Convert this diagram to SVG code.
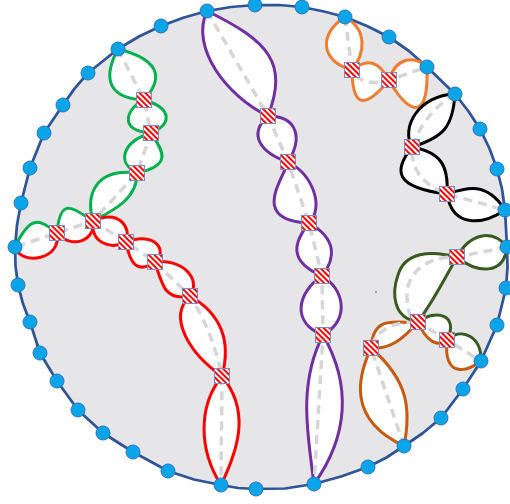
<svg xmlns="http://www.w3.org/2000/svg" width="510" height="504" viewBox="0 0 510 504">
<defs>
<pattern id="hatch" patternUnits="userSpaceOnUse" width="4" height="4" patternTransform="rotate(-45)"><rect width="4" height="4" fill="#fff"/><rect width="2" height="4" fill="#f00"/></pattern>
<style>
.lens{fill:#fff;stroke-width:3;stroke-linejoin:round}
.fill{fill:#fff;stroke:none}
.side{fill:none;stroke-width:3;stroke-linecap:round}
.dash{fill:none;stroke:#d6d6d6;stroke-width:3.5;stroke-dasharray:9 6}
.sq{fill:url(#hatch);stroke:#7b8dc3;stroke-width:1}
.dot{fill:#0aa5e8;stroke:#2e75b6;stroke-width:1}
.green{stroke:#00b050}.red{stroke:#ff0000}.purple{stroke:#7030a0}.orange{stroke:#ed7d31}.black{stroke:#000}.dkgreen{stroke:#3a5a22}.orange2{stroke:#c55a11}
</style>
</defs>
<g id="boundary">
<polygon points="255,5 279,5 302,7 324,11.5 345,17 367,26 389,37 409,51 427,67 455,94 468.3,111 480,129 489.5,148.5 497,169 502,189 505,210 507,247 507.5,267.5 506,288 497,325 481,361 463,389 441,418 423,433 404,446 386.5,457.5 368,467 341,476.5 314,484 285,488.5 256,489 238,488 221,485 194,479.5 168,471 133,452 103,433 78,410 57,381 40,353 30,322 23,303.8 18,285 15.5,266 15,247 17,225 21,203 30,168 44,133 63,105 74.7,88.4 88,73 118,49 139,36.5 161,26 184,17.5 207,11 231,7" fill="#e6e5e7" stroke="#2f5597" stroke-width="2.75" stroke-linejoin="round"/>
<circle cx="376" cy="292" r="1" fill="#8497b0"/>
</g>
<g id="connectors">
<g id="lenses-green">
<path class="lens green" d="M118,49 C105.7,72 102.3,98 144,100 C159.3,83 167.2,61.5 118,49Z"/>
<path class="lens green" d="M144,100 C171.8,108 172.7,123.5 151,133 C115.7,131 128.3,106.5 144,100Z"/>
<path class="lens green" d="M151,133 C122.3,141.8 116.2,162.7 137,173 C176.2,164.2 159.8,147.8 151,133Z"/>
<path class="lens green" d="M137,173 C96.8,168 85.2,193 93,221 C112.2,211 137.3,199.5 137,173Z"/>
</g>
<g id="lenses-green-red">
<path class="fill" d="M93,221 C72,207.3 60,196.7 57,233 C70.5,249.2 96,241.8 93,221Z"/>
<path class="fill" d="M57,233 C41.5,221.8 32,211.2 15,247 C21.5,266.7 62.5,259.3 57,233Z"/>
<path class="side green" d="M93,221 C72,207.3 60,196.7 57,233"/>
<path class="side green" d="M57,233 C41.5,221.8 32,211.2 15,247"/>
<path class="side red" d="M93,221 C96,241.8 70.5,249.2 57,233"/>
<path class="side red" d="M57,233 C62.5,259.3 21.5,266.7 15,247"/>
</g>
<g id="lenses-red">
<path class="lens red" d="M93,221 C120.5,208.5 131.5,229 126,242 C110.5,250 90.5,243 93,221Z"/>
<path class="lens red" d="M126,242 C156.7,230.7 167.8,252.3 155,262 C136.3,274.8 129.7,262.2 126,242Z"/>
<path class="lens red" d="M155,262 C180.2,258.3 202.3,277.2 190,296 C166.3,301.2 162.2,286.8 155,262Z"/>
<path class="lens red" d="M190,296 C166.2,318.2 191.8,355.3 222,376 C230.8,343.3 223.2,315.2 190,296Z"/>
<path class="lens red" d="M222,376 C197.7,406.3 198.8,450.2 221,485 C240.8,444.2 248.7,409.3 222,376Z"/>
</g>
<g id="lenses-purple">
<path class="lens purple" d="M207,11 C189.8,47.5 226.7,96 268,116 C288.2,63 269.3,41.5 207,11Z"/>
<path class="lens purple" d="M268,116 C247.7,134.3 260.3,152.7 288,162 C302.3,139.2 298.7,116.3 268,116Z"/>
<path class="lens purple" d="M288,162 C283,179.3 249.5,220.7 309,223 C324.5,207.2 313,174.8 288,162Z"/>
<path class="lens purple" d="M309,223 C293.8,242.2 287.7,261.3 322,276 C335.7,258.3 337.3,239.2 309,223Z"/>
<path class="lens purple" d="M322,276 C296.8,292.7 291.2,322.8 323,335 C351.2,318.3 343.3,288.2 322,276Z"/>
<path class="lens purple" d="M323,335 C297.5,384.7 308,435.8 314,484 C348.5,435.8 351.5,384.7 323,335Z"/>
</g>
<g id="lenses-orange">
<path class="lens orange" d="M345,17 C318.8,33.2 319.7,61.3 352,70 C364.7,53.8 368.3,30.2 345,17Z"/>
<path class="lens orange" d="M352,70 C367.3,58.3 378.2,60.2 389,80 C358.7,117.2 352.3,97.3 352,70Z"/>
<path class="lens orange" d="M389,80 C395.7,57.7 414.3,54.8 427,67 C429.3,138.8 397.2,96.7 389,80Z"/>
</g>
<g id="lenses-black">
<path class="lens black" d="M455,94 C418.2,95.2 400.8,127.8 412,147 C444.3,136.8 452.7,126.7 455,94Z"/>
<path class="lens black" d="M412,147 C393.7,170.2 393.3,187.3 447,194 C448.8,164.8 440.2,152.2 412,147Z"/>
<path class="lens black" d="M447,194 C463.3,188.8 485.7,179.2 505,210 C484.2,224.2 452.8,229.3 447,194Z"/>
</g>
<g id="lenses-dkgreen">
<path class="lens dkgreen" d="M507,247 C491.8,227.8 469.2,234.2 457,257 C476.7,273.2 503.8,275.8 507,247Z"/>
<path class="lens dkgreen" d="M457,257 C430,250 405,252 398,275 C392,292 392,318 418,322 C435.5,297.3 439.5,287.7 457,257Z"/>
</g>
<g id="lenses-orange2">
<path class="lens orange2" d="M371,348 C373.2,312.3 399.3,324.7 418,322 C402.3,339.7 389.7,349.8 371,348Z"/>
<path class="lens orange2" d="M371,348 C358,376.2 346.5,419.3 404,446 C411,410.3 409,380.7 371,348Z"/>
</g>
<g id="lenses-dkgreen-orange2">
<path class="fill" d="M418,322 C435.2,308.5 459.8,314.5 447,340 C437.3,347.5 426.2,341.5 418,322Z"/>
<path class="fill" d="M447,340 C462.8,326 481.7,337.5 481,361 C466.7,372 443.3,378.5 447,340Z"/>
<path class="side dkgreen" d="M418,322 C435.2,308.5 459.8,314.5 447,340"/>
<path class="side dkgreen" d="M447,340 C462.8,326 481.7,337.5 481,361"/>
<path class="side orange2" d="M418,322 C426.2,341.5 437.3,347.5 447,340"/>
<path class="side orange2" d="M447,340 C443.3,378.5 466.7,372 481,361"/>
</g>
<g id="dashes">
<path class="dash" d="M118,49 L144,100 L151,133 L137,173 L93,221 L57,233 L15,247"/>
<path class="dash" d="M93,221 L126,242 L155,262 L190,296 Q212,330 222,376 L221,485"/>
<path class="dash" d="M207,11 L268,116 L288,162 L309,223 L322,276 L323,335 L314,484"/>
<path class="dash" d="M345,17 L352,70 Q362,88 389,80 L427,67"/>
<path class="dash" d="M455,94 Q425,112 412,147 Q410,180 447,194 L505,210"/>
<path class="dash" d="M507,247 L457,257 C425,256 405,275 407,298 S412,316 418,322 L447,340 L481,361"/>
<path class="dash" d="M404,446 L371,348 Q378,322 418,322"/>
</g>
</g>
<g id="nodes">
<g id="d1"><circle class="dot" cx="255" cy="5" r="7"/></g>
<g id="d2"><circle class="dot" cx="302" cy="7" r="7"/></g>
<g id="d3"><circle class="dot" cx="345" cy="17" r="7"/></g>
<g id="d4"><circle class="dot" cx="389" cy="37" r="7"/></g>
<g id="d5"><circle class="dot" cx="427" cy="67" r="7"/></g>
<g id="d6"><circle class="dot" cx="455" cy="94" r="7"/></g>
<g id="d7"><circle class="dot" cx="480" cy="129" r="7"/></g>
<g id="d8"><circle class="dot" cx="497" cy="169" r="7"/></g>
<g id="d9"><circle class="dot" cx="505" cy="210" r="7"/></g>
<g id="d10"><circle class="dot" cx="507" cy="247" r="7"/></g>
<g id="d11"><circle class="dot" cx="506" cy="288" r="7"/></g>
<g id="d12"><circle class="dot" cx="497" cy="325" r="7"/></g>
<g id="d13"><circle class="dot" cx="481" cy="361" r="7"/></g>
<g id="d14"><circle class="dot" cx="463" cy="389" r="7"/></g>
<g id="d15"><circle class="dot" cx="441" cy="418" r="7"/></g>
<g id="d16"><circle class="dot" cx="404" cy="446" r="7"/></g>
<g id="d17"><circle class="dot" cx="368" cy="467" r="7"/></g>
<g id="d18"><circle class="dot" cx="314" cy="484" r="7"/></g>
<g id="d19"><circle class="dot" cx="256" cy="489" r="7"/></g>
<g id="d20"><circle class="dot" cx="221" cy="485" r="7"/></g>
<g id="d21"><circle class="dot" cx="168" cy="471" r="7"/></g>
<g id="d22"><circle class="dot" cx="133" cy="452" r="7"/></g>
<g id="d23"><circle class="dot" cx="103" cy="433" r="7"/></g>
<g id="d24"><circle class="dot" cx="78" cy="410" r="7"/></g>
<g id="d25"><circle class="dot" cx="57" cy="381" r="7"/></g>
<g id="d26"><circle class="dot" cx="40" cy="353" r="7"/></g>
<g id="d27"><circle class="dot" cx="30" cy="322" r="7"/></g>
<g id="d28"><circle class="dot" cx="18" cy="285" r="7"/></g>
<g id="d29"><circle class="dot" cx="15" cy="247" r="7"/></g>
<g id="d30"><circle class="dot" cx="21" cy="203" r="7"/></g>
<g id="d31"><circle class="dot" cx="30" cy="168" r="7"/></g>
<g id="d32"><circle class="dot" cx="44" cy="133" r="7"/></g>
<g id="d33"><circle class="dot" cx="63" cy="105" r="7"/></g>
<g id="d34"><circle class="dot" cx="88" cy="73" r="7"/></g>
<g id="d35"><circle class="dot" cx="118" cy="49" r="7"/></g>
<g id="d36"><circle class="dot" cx="161" cy="26" r="7"/></g>
<g id="d37"><circle class="dot" cx="207" cy="11" r="7"/></g>
<g id="s-g1"><rect class="sq" x="136.5" y="92.5" width="15" height="15"/></g>
<g id="s-g2"><rect class="sq" x="143.5" y="125.5" width="15" height="15"/></g>
<g id="s-g3"><rect class="sq" x="129.5" y="165.5" width="15" height="15"/></g>
<g id="s-g4"><rect class="sq" x="85.5" y="213.5" width="15" height="15"/></g>
<g id="s-g5"><rect class="sq" x="49.5" y="225.5" width="15" height="15"/></g>
<g id="s-r3"><rect class="sq" x="118.5" y="234.5" width="15" height="15"/></g>
<g id="s-r4"><rect class="sq" x="147.5" y="254.5" width="15" height="15"/></g>
<g id="s-r5"><rect class="sq" x="182.5" y="288.5" width="15" height="15"/></g>
<g id="s-r6"><rect class="sq" x="214.5" y="368.5" width="15" height="15"/></g>
<g id="s-p1"><rect class="sq" x="260.5" y="108.5" width="15" height="15"/></g>
<g id="s-p2"><rect class="sq" x="280.5" y="154.5" width="15" height="15"/></g>
<g id="s-p3"><rect class="sq" x="301.5" y="215.5" width="15" height="15"/></g>
<g id="s-p4"><rect class="sq" x="314.5" y="268.5" width="15" height="15"/></g>
<g id="s-p5"><rect class="sq" x="315.5" y="327.5" width="15" height="15"/></g>
<g id="s-o1"><rect class="sq" x="344.5" y="62.5" width="15" height="15"/></g>
<g id="s-o2"><rect class="sq" x="381.5" y="72.5" width="15" height="15"/></g>
<g id="s-k1"><rect class="sq" x="404.5" y="139.5" width="15" height="15"/></g>
<g id="s-k2"><rect class="sq" x="439.5" y="186.5" width="15" height="15"/></g>
<g id="s-d1"><rect class="sq" x="449.5" y="249.5" width="15" height="15"/></g>
<g id="s-d2"><rect class="sq" x="410.5" y="314.5" width="15" height="15"/></g>
<g id="s-d3"><rect class="sq" x="439.5" y="332.5" width="15" height="15"/></g>
<g id="s-f1"><rect class="sq" x="363.5" y="340.5" width="15" height="15"/></g>
</g>
</svg>
